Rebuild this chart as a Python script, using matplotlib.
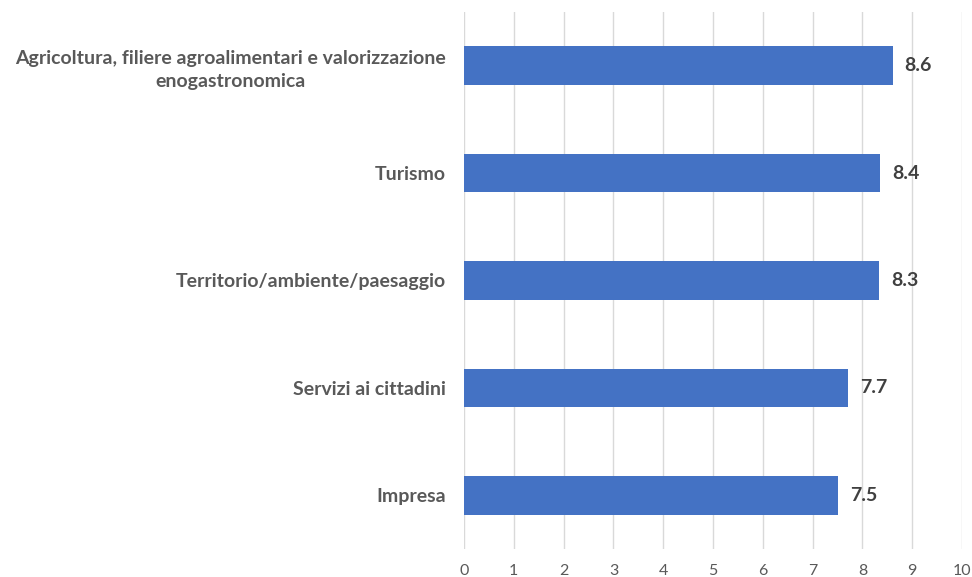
import matplotlib
matplotlib.use("Agg")
import matplotlib.pyplot as plt

categories = ["Agricoltura, filiere agroalimentari e valorizzazione\nenogastronomica",
              "Turismo",
              "Territorio/ambiente/paesaggio",
              "Servizi ai cittadini",
              "Impresa"]
values = [8.61, 8.35, 8.33, 7.71, 7.51]
labels = ["8.6", "8.4", "8.3", "7.7", "7.5"]
xticks = list(range(0, 11))

plt.rcParams['font.family'] = ['Lato', 'DejaVu Sans']

fig = plt.figure(figsize=(9.72, 5.77), dpi=100)
ax = fig.add_axes([464/972, 1-549/577, (962-464)/972, (549-12)/577])

ypos = list(range(len(categories)))
ax.barh(ypos, values, height=0.36, color="#4472C4", zorder=3)
ax.set_ylim(len(categories)-0.5, -0.5)
ax.set_xlim(0, 10)
ax.set_xticks(xticks)
ax.set_xticklabels([str(t) for t in xticks], fontsize=11.5, color="#595959")
ax.set_yticks(ypos)
ax.set_yticklabels(categories, fontsize=14, fontweight='bold', color="#595959",
                   ha='right', linespacing=1.45)
ax.tick_params(axis='y', length=0, pad=13)
ax.tick_params(axis='x', length=0, pad=11)
for lbl in ax.get_yticklabels():
    lbl.set_multialignment('center')

ax.grid(axis='x', color="#D9D9D9", linewidth=1, zorder=0)
for s in ax.spines.values():
    s.set_visible(False)

for y, v, t in zip(ypos, values, labels):
    ax.text(v + 0.24, y, t, va='center', ha='left', fontsize=14, fontweight='bold', color="#404040")

fig.savefig("out.png", dpi=100, facecolor="white")
